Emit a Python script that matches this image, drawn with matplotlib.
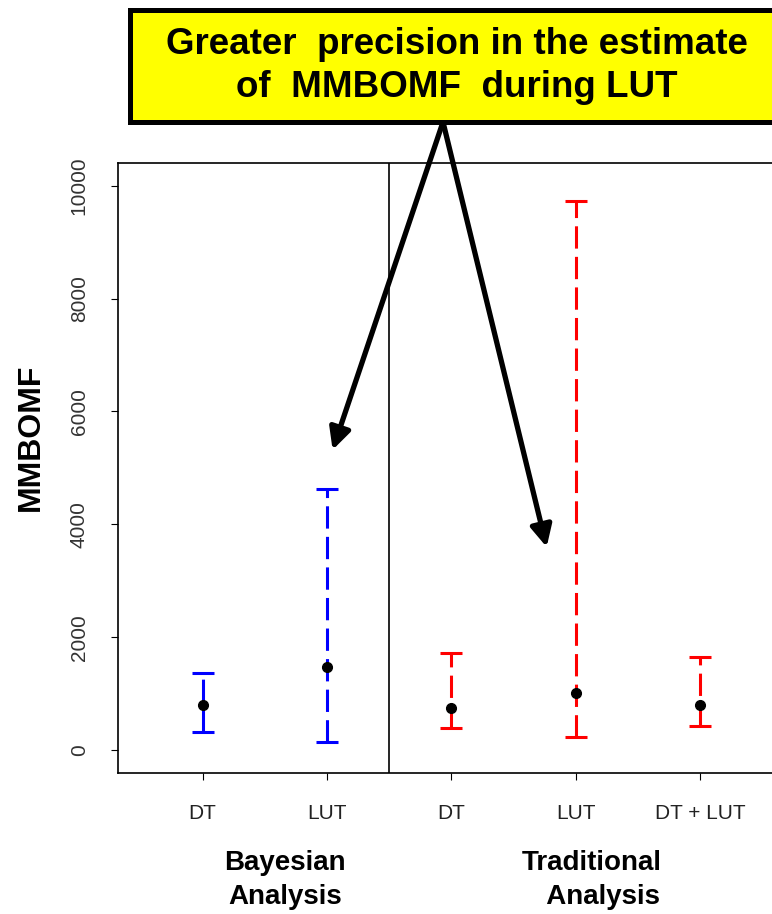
# grafica de intervalos de MMBOMF (bayesiano vs tradicional)
import matplotlib
matplotlib.use('Agg')
import matplotlib.pyplot as plt
from matplotlib.patches import Rectangle
import matplotlib.transforms as mtrans

plt.rcParams['font.family'] = ['Liberation Sans', 'DejaVu Sans']

# datos
etiquetas = ['DT', 'LUT', 'DT', 'LUT', 'DT + LUT']
posiciones = [1, 2, 3, 4, 5]
medias = [800, 1470, 745, 1010, 800]
inferiores = [330, 140, 390, 230, 425]
superiores = [1370, 4620, 1730, 9730, 1650]
colores = ['#0000FF', '#0000FF', '#FF0000', '#FF0000', '#FF0000']

grupos = ['Bayesian\nAnalysis', 'Traditional\n   Analysis']
grupos_x = [1.66, 4.13]

fig = plt.figure(figsize=(7.72, 9.14), dpi=100)
ax = fig.add_axes([0.1528, 0.1543, 0.864, 0.6674])

# barras de error con linea discontinua
for i in range(len(posiciones)):
    eb = ax.errorbar(posiciones[i], medias[i],
                     yerr=[[medias[i] - inferiores[i]], [superiores[i] - medias[i]]],
                     fmt='none', ecolor=colores[i], elinewidth=2.2,
                     capsize=8, capthick=2.2, zorder=2)
    eb[2][0].set_linestyle((0, (7.3, 2.7)))

# puntos de la estimacion
ax.plot(posiciones, medias, 'o', color='black', markersize=7, zorder=3)

# linea que separa los dos analisis
ax.axvline(2.5, color='black', lw=1.2)

ax.set_xlim(0.32, 5.68)
ax.set_ylim(-400, 10400)
ax.set_xticks(posiciones)
ax.set_xticklabels(etiquetas)
ax.set_yticks([0, 2000, 4000, 6000, 8000, 10000])
ax.tick_params(axis='x', labelsize=15, length=5, pad=17, colors='black', labelcolor='#222222')
ax.tick_params(axis='y', labelsize=15, length=5, pad=16, labelrotation=90, labelcolor='#333333')
for lab in ax.get_yticklabels():
    lab.set_va('center')
for s in ax.spines.values():
    s.set_linewidth(1.2)

ax.set_ylabel('MMBOMF', fontsize=23, fontweight='bold')
ax.yaxis.set_label_coords(-0.108, 0.55)

# nombres de los grupos debajo del eje
trans = mtrans.blended_transform_factory(ax.transData, fig.transFigure)
for g, gx in zip(grupos, grupos_x):
    fig.text(gx, 1 - 880 / 914, g, transform=trans, ha='center', va='center',
             fontsize=20, fontweight='bold', linespacing=1.4)

# recuadro amarillo con el mensaje
caja = Rectangle((130 / 772, 1 - 122 / 914), 0.9, 112 / 914, transform=fig.transFigure,
                 facecolor='#FFFF00', edgecolor='black', lw=3.6, zorder=5)
fig.patches.append(caja)
fig.text(0.592, 1 - 66 / 914, 'Greater  precision in the estimate\nof  MMBOMF  during LUT',
         ha='center', va='center', fontsize=26.5, fontweight='bold', linespacing=1.3, zorder=6)

# flechas
for punta in [(2.045, 5320), (3.765, 3600)]:
    ax.annotate('', xy=punta, xycoords='data', xytext=(443 / 772, 1 - 122 / 914),
                textcoords='figure fraction', annotation_clip=False,
                arrowprops=dict(arrowstyle='-|>', lw=3.8, color='black',
                                mutation_scale=32, shrinkA=0, shrinkB=0))

fig.savefig('out.png', dpi=100)
plt.close()
